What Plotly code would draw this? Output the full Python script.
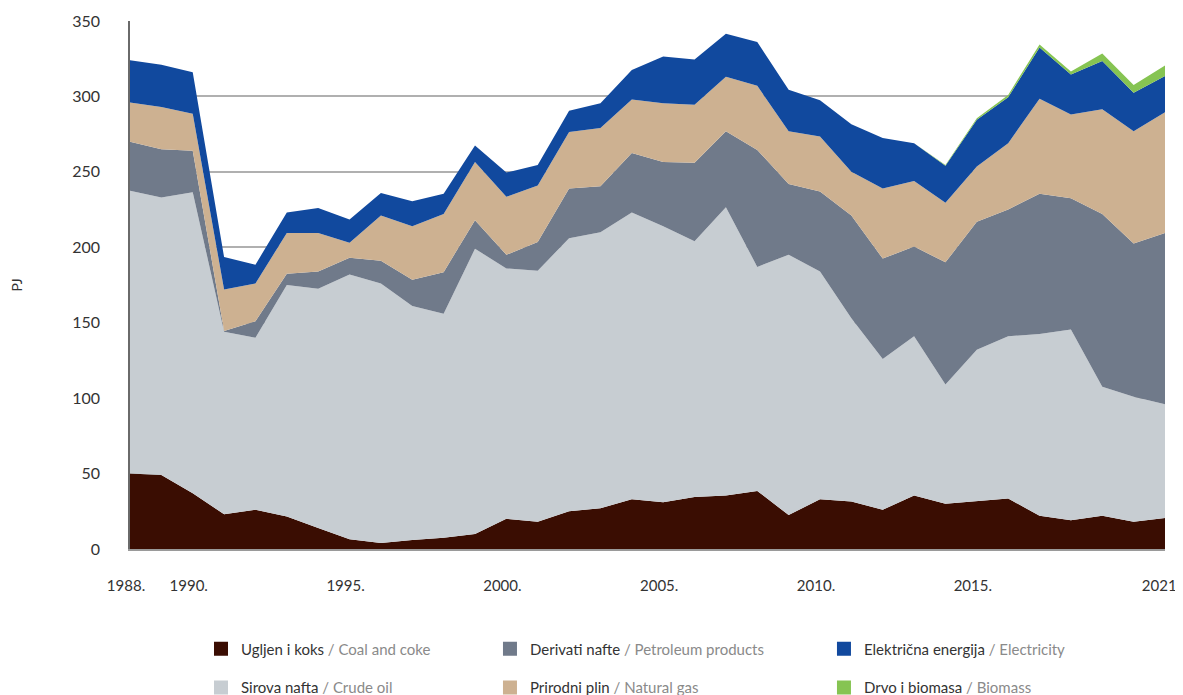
import plotly.graph_objects as go

# Years and series (PJ)
years = list(range(1988, 2022))

coal = [50, 49, 37, 23, 26, 21.5, 14, 6.5, 4, 6, 7.5, 10, 20, 18, 25, 27, 33,
        31, 34.5, 35.5, 38.5, 22.5, 33, 31.5, 26, 35.5, 30, 32, 33.5, 22, 19,
        22, 18, 20.5]
crude = [187.5, 184, 199.5, 121, 114, 153.5, 158.5, 175.5, 172, 155, 148.5,
         189, 166, 166.5, 181, 183, 190, 183, 169.5, 191, 148.5, 172.5, 151,
         121.5, 100, 105.5, 79, 100, 107.5, 120.5, 126.5, 85.5, 83, 75.5]
petroleum = [32.5, 32, 27.5, 0.5, 11, 7.5, 11.5, 11, 15, 17.5, 27.5, 19, 9,
             19, 33, 30.5, 39.5, 42.5, 52, 50.5, 77.5, 47, 53, 68, 66.5, 59.5,
             81, 85, 84, 93, 87, 114.5, 101.5, 113.5]
gas = [26, 28, 24.5, 27.5, 25, 27, 25.5, 10, 30, 35.5, 38.5, 38.5, 38.5, 37.5,
       37.5, 38.5, 35.5, 39, 38.5, 36, 42.5, 35, 36.5, 29, 46.5, 43.5, 39.5,
       36.5, 44, 63, 55.5, 69.5, 74.5, 80]
electricity = [28, 28, 27.5, 21.5, 12.5, 13.5, 16.5, 15.5, 15, 16.5, 13.5, 11,
               16, 13.5, 14, 16.5, 19.5, 31, 30, 28.5, 29, 27.5, 24, 31.5, 33.5,
               25, 24.5, 31, 30.5, 34, 26.5, 32, 25.5, 24]
biomass = [0, 0, 0, 0, 0, 0, 0, 0, 0, 0, 0, 0, 0, 0, 0, 0, 0, 0, 0, 0, 0, 0, 0,
           0, 0, 0, 0.5, 1, 1.5, 2, 2, 5, 5, 7]

tick_years = [1988, 1990, 1995, 2000, 2005, 2010, 2015, 2021]
tick_text = ['%d.' % y for y in tick_years]

# stacking order; each legend entry gets its own small legend box
series = [
    ('Ugljen i koks', 'Coal and coke', coal, '#3a0d02', 'legend'),
    ('Sirova nafta', 'Crude oil', crude, '#c7cdd2', 'legend2'),
    ('Derivati nafte', 'Petroleum products', petroleum, '#707a8a', 'legend3'),
    ('Prirodni plin', 'Natural gas', gas, '#cdb191', 'legend4'),
    ('Električna energija', 'Electricity', electricity, '#11499e', 'legend5'),
    ('Drvo i biomasa', 'Biomass', biomass, '#86c452', 'legend6'),
]

fig = go.Figure()
for hr, en, vals, col, leg in series:
    fig.add_trace(go.Scatter(
        x=years, y=vals, mode='lines', stackgroup='one',
        line=dict(width=0, color=col), fillcolor=col,
        showlegend=False, hoverinfo='x+y', name=en))

# legend-only traces with square swatches
for hr, en, vals, col, leg in series:
    fig.add_trace(go.Scatter(
        x=[None], y=[None], mode='markers',
        marker=dict(symbol='square', size=14, color=col),
        name="%s <span style='color:#8a8a8a'>/ %s</span>" % (hr, en),
        legend=leg))

leg_font = dict(family='Lato', size=15, color='#333333')
def leg(x, y):
    return dict(x=x, y=y, xanchor='left', yanchor='middle',
                orientation='h', font=leg_font,
                bgcolor='rgba(0,0,0,0)', itemclick=False)

col_x = [0.0686, 0.3478, 0.6705]
row_y = [-0.1894, -0.263]

# body margin of the page is 8px, so size is reduced by that
fig.update_layout(
    width=1175, height=687,
    margin=dict(l=122, r=18, t=13, b=146, autoexpand=False),
    plot_bgcolor='white', paper_bgcolor='white',
    font=dict(family='Lato', size=15, color='#333333'),
    showlegend=True,
    legend=leg(col_x[0], row_y[0]),
    legend2=leg(col_x[0], row_y[1]),
    legend3=leg(col_x[1], row_y[0]),
    legend4=leg(col_x[1], row_y[1]),
    legend5=leg(col_x[2], row_y[0]),
    legend6=leg(col_x[2], row_y[1]),
    xaxis=dict(
        range=[1988, 2021], automargin=False,
        tickvals=tick_years, ticktext=tick_text,
        showgrid=False, zeroline=False,
        showline=True, linecolor='#9a9a9a', linewidth=1.5,
        ticks='', ticklabelstandoff=22, ticklabelshift=-4,
        ticklabeloverflow='allow',
        tickfont=dict(family='Lato', size=15, color='#333333')),
    yaxis=dict(
        range=[0, 350], tick0=0, dtick=50, automargin=False,
        showgrid=True, gridcolor='#b0b0b0', gridwidth=1.5,
        zeroline=False,
        showline=True, linecolor='#6a6a6a', linewidth=1.5,
        ticks='', ticklabelstandoff=25,
        tickfont=dict(family='Lato', size=16, color='#333333'),
        title=dict(text='PJ', standoff=52,
                   font=dict(family='Lato', size=14, color='#333333'))),
)

fig.write_html("out.html")
